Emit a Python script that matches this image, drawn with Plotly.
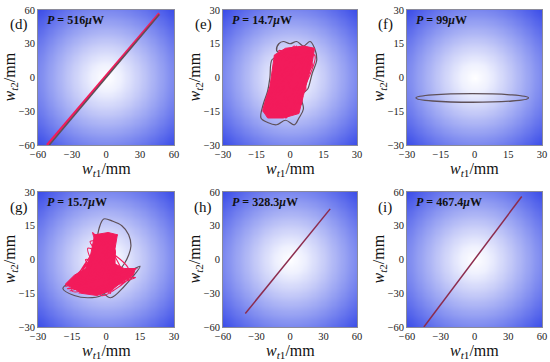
import numpy as np
import plotly.graph_objects as go

W, H = 550, 362

# ---------------- data ----------------
panel_labels = ["(d)", "(e)", "(f)", "(g)", "(h)", "(i)"]
power_labels = ["516", "14.7", "99", "15.7", "328.3", "467.4"]
axis_limits = [60, 30, 30, 30, 60, 60]
tick_sets = {60: [-60, -30, 0, 30, 60], 30: [-30, -15, 0, 15, 30]}

# (d) straight line segments
d_pink_x = [-52, 47]
d_pink_y = [-60, 57]
d_dark_x = [-50, 47]
d_dark_y = [-60, 56]

# (e) chaotic trajectory
e_core_x = [-12, -10, -3, 4, 6, 8, 10, 11, 6, -2, -7, -8, -9, -11, -12]
e_core_y = [-15, -18, -18, -16, -8, 0, 7, 13, 14, 13, 10, 3, -4, -10, -15]
e_grey_x = [-12, -13, -10, -6, -2, 2, 4, 6, 5, 7, 8, 10, 12, 11, 9, 6, 3, 0, -3, -5, -6, -4, -8, -9, -10, -12]
e_grey_y = [-12, -18, -20, -21, -19, -21, -18, -14, -8, -6, -5, 2, 8, 13, 16, 14, 16, 15, 16, 15, 12, 10, 8, 0, -6, -12]
e_pink_x = [-10, -4, 2, -6, 6, -8, 9, -2, 4, -11, 3, -7, 10, -3, 7, -9, 0, 5, -5, 8, -10, 1, -6, 9, -1, 6, -8, 3,
            -12, 2, -4, 10, -7, 5, -9, 4, -2, 7, -5, 0, -11, 6, -3, 9, -8, 1, -5, 8, -10, 3, -1, 11, -7, 4, -9, 2,
            -4, 6, -11, 0, 5, -6, 9, -2, -8, 3, 7, -5, 1, -10]
e_pink_y = [-15, -17, -14, -9, -6, -12, 2, -16, -3, -13, 8, -4, 11, -10, 5, -8, 12, -12, 4, 10, -16, -5, 7, 13,
            -14, 0, -2, 14, -15, -8, 9, 6, -11, 3, -6, 11, -18, 2, 12, -1, -12, 7, -7, 12, -3, -15, 1, 5, -10, 12,
            -17, 10, 2, -9, -7, 14, -13, 8, -14, 3, -4, -1, 9, -11, 0, 6, -6, 11, -16, -9]

# (f) closed orbit: ellipse bounding box
f_ellipse_x = [-26, 24]
f_ellipse_y = [-11, -7.2]

# (g) chaotic trajectory
g_core_x = [-18, -14, -11, -4, 2, 7, 12, 13, 8, 4, 4, 5, 1, -5, -6, -7, -9, -14, -18]
g_core_y = [-11, -13, -15, -16, -14, -10, -7, -4, -4, -2, 5, 11, 12, 11, 6, 1, -4, -7, -11]
g_grey_x = [-4, -3, -1, 3, 7, 10, 11, 10, 8, 5, 2, -2, -8, -14, -19, -17, -12, -6, -2, 2, 8, 15, 11, 4]
g_grey_y = [8, 14, 18, 17, 15, 11, 6, 2, -2, -6, -12, -16, -17, -16, -13, -11, -12, -10, -14, -17, -12, -3, -5, -9]
g_pink_x = [-18, 14, -16, 12, -12, 13, -8, 3, -5, 4, -7, 2, -10, 5, -14, 1, -6, 3, -9, 6, -17, 10, -4, 2,
            -6, 4, -11, 8, -3, 0, -8, 5, -13, 11, -2, 3, -7, 1, -15, 9]
g_pink_y = [-12, -4, -14, -6, -15, -8, -10, 10, -13, 4, 8, -6, -12, 11, -9, -2, 12, -14, 0, -8, -13, -5, 6, -15,
            -3, 9, -7, -10, 11, -12, 5, -4, -11, -7, -16, 7, -5, 12, -14, -6]

# (h), (i) straight lines
h_x = [-40, 36]
h_y = [-48, 45]
i_x = [-45, 42]
i_y = [-60, 56]

# ---------------- style ----------------
PINK = "#f21b5b"
GREY = "#5e5058"
LINE = "#8c2c4e"
FONT = "Liberation Serif"

col_px = [(38, 174), (223, 357), (407, 542)]
row_px = [(10, 145), (192, 327)]

bg_scale = [[0.0, "#ffffff"], [0.15, "#eef0fe"], [0.35, "#c8cdf8"],
            [0.6, "#929df2"], [1.0, "#3a4ce8"]]

fig = go.Figure()

def ax_name(k, kind):
    return kind + ("" if k == 0 else str(k + 1))

def ann(text, px, py, size, **kw):
    fig.add_annotation(text=text, x=px / W, y=1 - py / H, xref="paper", yref="paper",
                       showarrow=False, xanchor=kw.pop("xanchor", "center"),
                       yanchor=kw.pop("yanchor", "middle"),
                       font=dict(family=FONT, size=size, color="#111"), **kw)

for k in range(6):
    r, c = divmod(k, 3)
    L = axis_limits[k]
    xn, yn = ax_name(k, "x"), ax_name(k, "y")
    x0, x1 = col_px[c]
    t0, t1 = row_px[r]
    common = dict(range=[-L, L], tickvals=tick_sets[L], showgrid=False, zeroline=False,
                  showline=True, mirror=True, linecolor="#8a8a9a", linewidth=0.6,
                  ticks="", automargin=False,
                  tickfont=dict(family=FONT, size=10.5, color="#222"))
    fig.update_layout(**{
        ax_name(k, "xaxis"): dict(domain=[x0 / W, x1 / W], anchor=yn, **common),
        ax_name(k, "yaxis"): dict(domain=[1 - t1 / H, 1 - t0 / H], anchor=xn, **common),
    })
    # background radial gradient (potential landscape)
    g = np.linspace(-L, L, 61)
    gx, gy = np.meshgrid(g, g)
    z = np.sqrt(gx ** 2 + gy ** 2) / (L * np.sqrt(2))
    fig.add_trace(go.Heatmap(x=g, y=g, z=z, colorscale=bg_scale, zmin=0, zmax=1,
                             zsmooth="best", showscale=False, hoverinfo="skip",
                             xaxis=xn, yaxis=yn))

    ann(panel_labels[k], [19, 203, 385][c], [25, 207][r], 15)
    ann("<b><i>P</i> = " + power_labels[k] + "<i>μ</i>W</b>", x0 + 7, t0 + 10, 12, xanchor="left")
    ann("<i>w</i><sub><i>t</i>1</sub>/mm", (x0 + x1) / 2, t1 + 24, 16)
    ann("<i>w</i><sub><i>t</i>2</sub>/mm", x0 - 28, (t0 + t1) / 2, 16, textangle=-90)

def line(x, y, k, color, width, **kw):
    fig.add_trace(go.Scatter(x=x, y=y, mode="lines", line=dict(color=color, width=width),
                             xaxis=ax_name(k, "x"), yaxis=ax_name(k, "y"), hoverinfo="skip", **kw))

# (d)
line(d_pink_x, d_pink_y, 0, PINK, 2.5)
line(d_dark_x, d_dark_y, 0, GREY, 1.5)
# (e)
line(e_grey_x, e_grey_y, 1, GREY, 1.2, line_shape="spline")
line(e_core_x, e_core_y, 1, PINK, 1, fill="toself", fillcolor=PINK)
line(e_pink_x, e_pink_y, 1, PINK, 1.2, line_shape="spline")
# (f)
fig.add_shape(type="circle", xref="x3", yref="y3", x0=f_ellipse_x[0], x1=f_ellipse_x[1],
              y0=f_ellipse_y[0], y1=f_ellipse_y[1], line=dict(color=GREY, width=1.3))
# (g)
line(g_grey_x, g_grey_y, 3, GREY, 1.2, line_shape="spline")
line(g_core_x, g_core_y, 3, PINK, 1, fill="toself", fillcolor=PINK)
line(g_pink_x, g_pink_y, 3, PINK, 1.2, line_shape="spline")
# (h), (i)
line(h_x, h_y, 4, LINE, 1.5)
line(i_x, i_y, 5, LINE, 1.5)

fig.update_layout(width=W, height=H, autosize=False, margin=dict(l=0, r=0, t=0, b=0, pad=0),
                  paper_bgcolor="white", plot_bgcolor="white", showlegend=False)

fig.write_html("out.html", config={"displayModeBar": False},
               post_script="document.body.style.margin='0';document.body.style.padding='0';")
